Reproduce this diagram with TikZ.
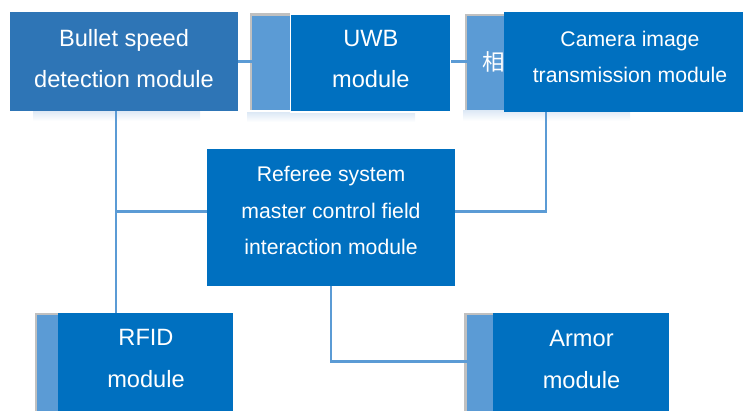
\documentclass[tikz,border=0pt]{standalone}
\usepackage{fontspec}
\setmainfont{Liberation Sans}
\newfontfamily\cjk{Noto Sans CJK SC}
\usetikzlibrary{fit}
\definecolor{dblue}{HTML}{2E75B6}
\definecolor{mblue}{HTML}{0070C0}
\definecolor{lblue}{HTML}{5B9BD5}
\definecolor{gborder}{HTML}{C0C0C0}
\definecolor{shblue}{HTML}{DCE8F5}
\begin{document}
\begin{tikzpicture}[x=1pt,y=-1pt,
  box/.style={rectangle,inner sep=0pt,outer sep=0pt,draw=none},
  mainbox/.style={box,fill=mblue},
  sidebox/.style={box,fill=lblue},
  conn/.style={draw=lblue,line width=2.5pt},
  bigtxt/.style={text=white,align=center,inner sep=0pt,font=\fontsize{23.6}{41}\selectfont},
  smalltxt/.style={text=white,align=center,inner sep=0pt,font=\fontsize{21.2}{36.5}\selectfont}]
\useasboundingbox (0,0) rectangle (743,410);
% soft shadows
\shade[top color=shblue,bottom color=white] (33,110.5) rectangle (200,121);
\shade[top color=shblue,bottom color=white] (247,112) rectangle (415,122);
\shade[top color=shblue,bottom color=white] (463,110) rectangle (630,121);
% grey edges of side boxes
\fill[gborder] (249.5,13.3) rectangle (291,110);
\fill[gborder] (465,13.5) rectangle (505,110);
\fill[gborder] (35,313) rectangle (58,412);
\fill[gborder] (464.3,313) rectangle (493,412);
% boxes
\node[box,fill=dblue,fit={(10,12) (238,110.5)}] (bullet) {};
\node[sidebox,fit={(252,15.5) (291,110)}] (uwbl) {};
\node[mainbox,draw=white,line width=1.5pt,fit={(290.5,14) (451,112)}] (uwb) {};
\node[sidebox,fit={(467,15.5) (505,110)}] (caml) {};
\node[text=white,font=\cjk\fontsize{22.5}{22.5}\selectfont,inner sep=0pt] (camltxt) at (494,62) {相};
\node[mainbox,fit={(504,12) (756,112.3)}] (cam) {};
\node[mainbox,fit={(206.7,149) (455,285.7)}] (ref) {};
\node[sidebox,fit={(37,315.3) (58,412)}] (rfidl) {};
\node[mainbox,fit={(57.7,312.7) (233.3,412)}] (rfid) {};
\node[sidebox,fit={(466.7,315.3) (493,412)}] (arml) {};
\node[mainbox,fit={(492.7,312.7) (669.3,412)}] (arm) {};
% connectors
\coordinate (lx) at (116,0);
\coordinate (rx) at (546,0);
\coordinate (bx) at (331,0);
\coordinate (ty) at (0,61.7);
\coordinate (my) at (0,211.7);
\coordinate (by) at (0,361.7);
\draw[conn] (bullet.east |- ty) -- (uwbl.west |- ty);
\draw[conn] (uwb.east |- ty) -- (caml.west |- ty);
\draw[conn] (bullet.south -| lx) -- (rfid.north -| lx);
\draw[conn] (lx |- my) -- (ref.west |- my);
\draw[conn] (ref.east |- my) -| (cam.south -| rx);
\draw[conn] (ref.south -| bx) |- (arml.west |- by);
% texts
\node[bigtxt] (bullettxt) at (124,58.4) {Bullet speed\\detection module};
\node[bigtxt] (uwbtxt) at (370.8,59) {UWB\\module};
\node[smalltxt,font=\fontsize{21.2}{36}\selectfont] (camtxt) at (630,57.2) {Camera image\\transmission module};
\node[smalltxt] (reftxt) at (331,210.7) {Referee system\\master control field\\interaction module};
\node[bigtxt,font=\fontsize{23.6}{42}\selectfont] (rfidtxt) at (146,358.4) {RFID\\module};
\node[bigtxt,font=\fontsize{23.6}{42}\selectfont] (armtxt) at (581.5,359.4) {Armor\\module};
\end{tikzpicture}
\end{document}
